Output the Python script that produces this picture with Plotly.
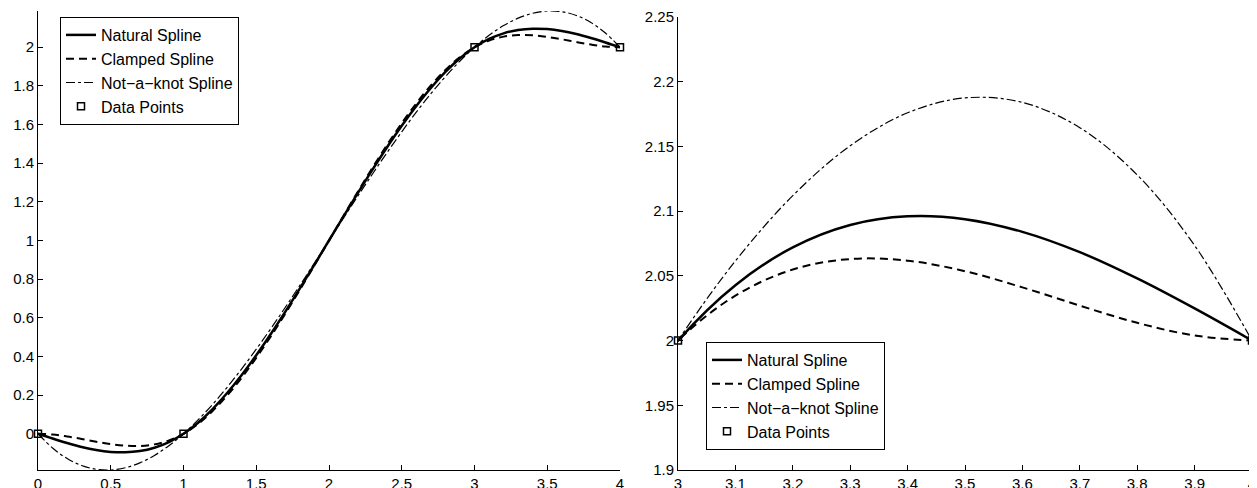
#### Natural vs clamped vs not-a-knot cubic splines through 4 data points
import plotly.graph_objects as go

# sample points along the curves
x_vals = [0.0, 0.1, 0.2, 0.3, 0.4, 0.5, 0.6, 0.7, 0.8, 0.9,
          1.0, 1.1, 1.2, 1.3, 1.4, 1.5, 1.6, 1.7, 1.8, 1.9,
          2.0, 2.1, 2.2, 2.3, 2.4, 2.5, 2.6, 2.7, 2.8, 2.9,
          3.0, 3.1, 3.2, 3.3, 3.4, 3.5, 3.6, 3.7, 3.8, 3.9, 4.0]

natural = [0.0, -0.0248, -0.048, -0.0683, -0.084, -0.0938, -0.096, -0.0893, -0.072, -0.0428,
           0.0, 0.0573, 0.128, 0.2108, 0.304, 0.4063, 0.516, 0.6318, 0.752, 0.8753,
           1.0, 1.1248, 1.248, 1.3683, 1.484, 1.5938, 1.696, 1.7893, 1.872, 1.9428,
           2.0, 2.0428, 2.072, 2.0893, 2.096, 2.0938, 2.084, 2.0683, 2.048, 2.0248, 2.0]

clamped = [0.0, -0.0039, -0.0137, -0.027, -0.0411, -0.0536, -0.0617, -0.063, -0.0549, -0.0347,
           0.0, 0.0511, 0.1177, 0.198, 0.2903, 0.3929, 0.504, 0.622, 0.7451, 0.8717,
           1.0, 1.1283, 1.2549, 1.378, 1.496, 1.6071, 1.7097, 1.802, 1.8823, 1.9489,
           2.0, 2.0347, 2.0549, 2.063, 2.0617, 2.0536, 2.0411, 2.027, 2.0137, 2.0039, 2.0]

not_a_knot = [0.0, -0.0735, -0.128, -0.1645, -0.184, -0.1875, -0.176, -0.1505, -0.112, -0.0615,
              0.0, 0.0715, 0.152, 0.2405, 0.336, 0.4375, 0.544, 0.6545, 0.768, 0.8835,
              1.0, 1.1165, 1.232, 1.3455, 1.456, 1.5625, 1.664, 1.7595, 1.848, 1.9285,
              2.0, 2.0615, 2.112, 2.1505, 2.176, 2.1875, 2.184, 2.1645, 2.128, 2.0735, 2.0]

data_x = [0, 1, 3, 4]
data_y = [0, 0, 2, 2]

names = ['Natural Spline', 'Clamped Spline', 'Not\u2212a\u2212knot Spline', 'Data Points']

# page body has an 8px margin, so the figure is a bit smaller than the window
W, H = 1249, 480

fig = go.Figure()

for ax, leg in [('', 'legend'), ('2', 'legend2')]:
    fig.add_trace(go.Scatter(x=x_vals, y=natural, mode='lines', name=names[0],
                             line=dict(color='black', width=2.5, shape='spline'),
                             xaxis='x' + ax, yaxis='y' + ax, legend=leg))
    fig.add_trace(go.Scatter(x=x_vals, y=clamped, mode='lines', name=names[1],
                             line=dict(color='black', width=2, dash='8px,5px', shape='spline'),
                             xaxis='x' + ax, yaxis='y' + ax, legend=leg))
    fig.add_trace(go.Scatter(x=x_vals, y=not_a_knot, mode='lines', name=names[2],
                             line=dict(color='black', width=1.2, dash='dashdot', shape='spline'),
                             xaxis='x' + ax, yaxis='y' + ax, legend=leg))
    fig.add_trace(go.Scatter(x=data_x, y=data_y, mode='markers', name=names[3],
                             marker=dict(symbol='square-open', size=7, color='black',
                                         line=dict(width=1.5, color='black')),
                             cliponaxis=False, xaxis='x' + ax, yaxis='y' + ax, legend=leg))

axis_style = dict(showline=True, linecolor='black', linewidth=1, mirror=False,
                  ticks='inside', ticklen=5, tickcolor='black', showgrid=False,
                  zeroline=False, tickfont=dict(size=15, color='black'))

legend_style = dict(bgcolor='white', bordercolor='black', borderwidth=1,
                    font=dict(size=16, color='black'), xanchor='left', yanchor='top',
                    tracegroupgap=0)

fig.update_layout(
    width=W, height=H, template='none',
    paper_bgcolor='white', plot_bgcolor='white',
    font=dict(family='Arial, Liberation Sans, sans-serif', size=15, color='black'),
    margin=dict(l=0, r=0, t=0, b=0),
    xaxis=dict(axis_style, domain=[30 / W, 612 / W], range=[0, 4], dtick=0.5, tick0=0,
               anchor='y'),
    yaxis=dict(axis_style, domain=[1 - 462 / H, 1 - 3 / H], range=[-0.1875, 2.1875],
               dtick=0.2, tick0=0, anchor='x'),
    xaxis2=dict(axis_style, domain=[670 / W, 1244 / W], range=[3, 4], dtick=0.1, tick0=3,
                anchor='y2'),
    yaxis2=dict(axis_style, domain=[1 - 462 / H, 1 - 9 / H], range=[1.9, 2.25],
                dtick=0.05, tick0=1.9, anchor='x2'),
    legend=dict(legend_style, x=52 / W, y=1 - 9 / H),
    legend2=dict(legend_style, x=698 / W, y=1 - 334 / H),
    showlegend=True,
)

fig.write_html("out.html")
